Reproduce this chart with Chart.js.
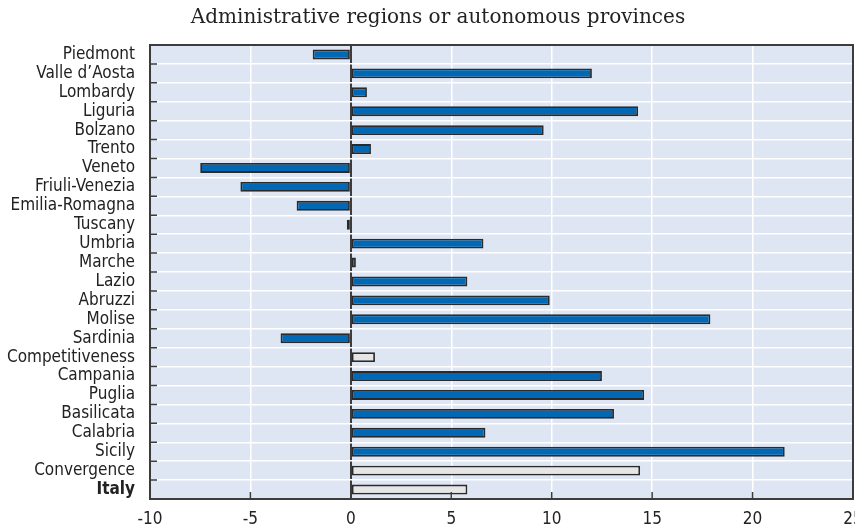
<!DOCTYPE html>
<html>
<head>
<meta charset="utf-8">
<script src="https://cdn.jsdelivr.net/npm/chart.js@4.4.1/dist/chart.umd.min.js"></script>
<style>
  html, body { margin: 0; padding: 0; background: #fff; }
  canvas { display: block; }
</style>
</head>
<body>
<canvas id="chart" width="855" height="532"></canvas>
<script>
const categories = [
  "Piedmont", "Valle d\u2019Aosta", "Lombardy", "Liguria", "Bolzano", "Trento",
  "Veneto", "Friuli-Venezia", "Emilia-Romagna", "Tuscany", "Umbria", "Marche",
  "Lazio", "Abruzzi", "Molise", "Sardinia", "Competitiveness", "Campania",
  "Puglia", "Basilicata", "Calabria", "Sicily", "Convergence", "Italy"
];
const values = [
  -1.9, 12.0, 0.8, 14.3, 9.6, 1.0,
  -7.5, -5.5, -2.7, -0.2, 6.6, 0.25,
  5.8, 9.9, 17.9, -3.5, 1.2, 12.5,
  14.6, 13.1, 6.7, 21.6, 14.4, 5.8
];
const aggregates = ["Competitiveness", "Convergence", "Italy"];
const xMin = -10;
const xMax = 25;
const xStep = 5;
const title = "Administrative regions or autonomous provinces";

const blue = "#0068b4";
const pale = "#e6e6e6";
const frameColor = "#3c3c3c";
const labelFont = "'DejaVu Sans Condensed', 'Liberation Sans Narrow', sans-serif";

const barColors = categories.map(c => aggregates.includes(c) ? pale : blue);

// title, plot background, inner tick marks and frame
const framePlugin = {
  id: "frame",
  beforeDraw(chart) {
    const { ctx, chartArea: a } = chart;
    ctx.save();
    ctx.fillStyle = "#dfe6f3";
    ctx.fillRect(a.left, a.top, a.right - a.left, a.bottom - a.top);
    ctx.fillStyle = "#222";
    ctx.font = "20px 'DejaVu Serif'";
    ctx.textAlign = "center";
    ctx.textBaseline = "alphabetic";
    ctx.fillText(title, 438, 23);
    ctx.restore();
  },
  afterDraw(chart) {
    const { ctx, chartArea: a, scales } = chart;
    ctx.save();
    ctx.strokeStyle = frameColor;
    ctx.lineWidth = 1.5;
    ctx.beginPath();
    for (let i = 1; i < categories.length; i++) {
      const py = scales.y.getPixelForValue(i - 0.5);
      ctx.moveTo(a.left, py);
      ctx.lineTo(a.left + 7, py);
    }
    scales.x.ticks.forEach(t => {
      if (t.value > xMin && t.value < xMax && t.value !== 0) {
        const px = scales.x.getPixelForValue(t.value);
        ctx.moveTo(px, a.bottom);
        ctx.lineTo(px, a.bottom - 7);
      }
    });
    ctx.stroke();
    ctx.lineWidth = 2;
    ctx.strokeRect(a.left, a.top, a.right - a.left, a.bottom - a.top);
    ctx.restore();
  }
};

new Chart(document.getElementById("chart"), {
  type: "bar",
  data: {
    labels: categories,
    datasets: [{
      data: values,
      backgroundColor: barColors,
      borderColor: "#2a2a2a",
      borderWidth: 1.8,
      borderSkipped: false,
      categoryPercentage: 1,
      barPercentage: 0.52
    }]
  },
  options: {
    indexAxis: "y",
    responsive: false,
    animation: false,
    layout: { padding: { top: 45, right: 2, bottom: 0, left: 0 } },
    scales: {
      x: {
        min: xMin,
        max: xMax,
        afterFit(scale) {
          scale.height = 33;
          scale.paddingLeft = 0;
          scale.paddingRight = 0;
        },
        ticks: {
          stepSize: xStep,
          padding: 10,
          color: "#222",
          font: { family: labelFont, size: 17 }
        },
        grid: {
          drawTicks: false,
          color: c => c.tick && c.tick.value === 0 ? frameColor : "#ffffff",
          lineWidth: c => c.tick && c.tick.value === 0 ? 2 : 1.5
        },
        border: { display: false }
      },
      y: {
        afterFit(scale) { scale.width = 150; },
        ticks: {
          autoSkip: false,
          padding: 15,
          color: "#222",
          font: c => ({
            family: labelFont,
            size: 17,
            weight: c.tick && c.tick.label === "Italy" ? "bold" : "normal"
          })
        },
        grid: {
          offset: true,
          drawTicks: false,
          color: "#ffffff",
          lineWidth: 1.5
        },
        border: { display: false }
      }
    },
    plugins: {
      legend: { display: false },
      tooltip: { enabled: false },
      title: { display: false }
    }
  },
  plugins: [framePlugin]
});
</script>
</body>
</html>
